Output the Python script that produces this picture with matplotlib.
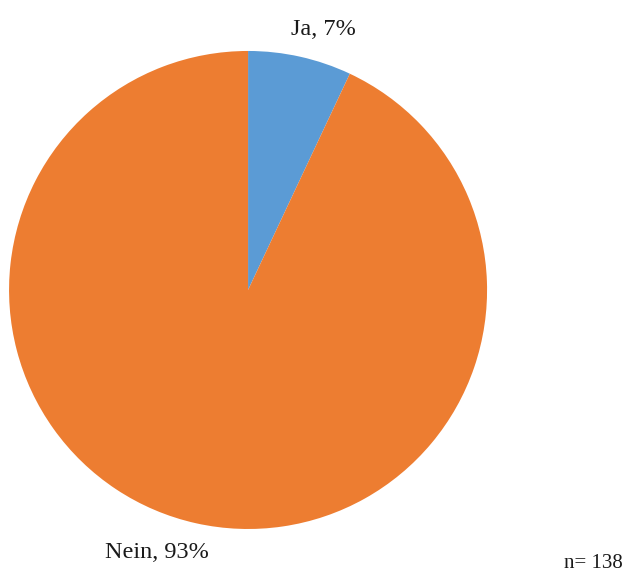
import matplotlib.pyplot as plt

labels = ["Ja", "Nein"]
shares = [7, 93]
colors = ["#5B9BD5", "#ED7D31"]
n_total = 138

plt.rcParams['font.family'] = ['Liberation Serif', 'DejaVu Serif']

fig = plt.figure(figsize=(6.25, 5.72), dpi=100)
ax = fig.add_axes([0.0144, 0.0752, 0.765, 0.8357])
ax.pie(shares, colors=colors, startangle=90, counterclock=False, radius=1.0)
ax.set_xlim(-1, 1)
ax.set_ylim(-1, 1)
ax.set_aspect('equal')
ax.axis('off')

# category labels outside the pie
label_pos = [(0.314, 1.088), (-0.381, -1.100)]
for lab, val, (x, y) in zip(labels, shares, label_pos):
    ax.text(x, y, f"{lab}, {val}%", ha='center', va='center',
            fontsize=17.5, color='#1a1a1a', clip_on=False)

fig.text(593 / 625, 1 - 563 / 572, f"n= {n_total}", ha='center', va='center',
         fontsize=15, color='#1a1a1a')

fig.savefig("out.png", dpi=100, facecolor='white')
